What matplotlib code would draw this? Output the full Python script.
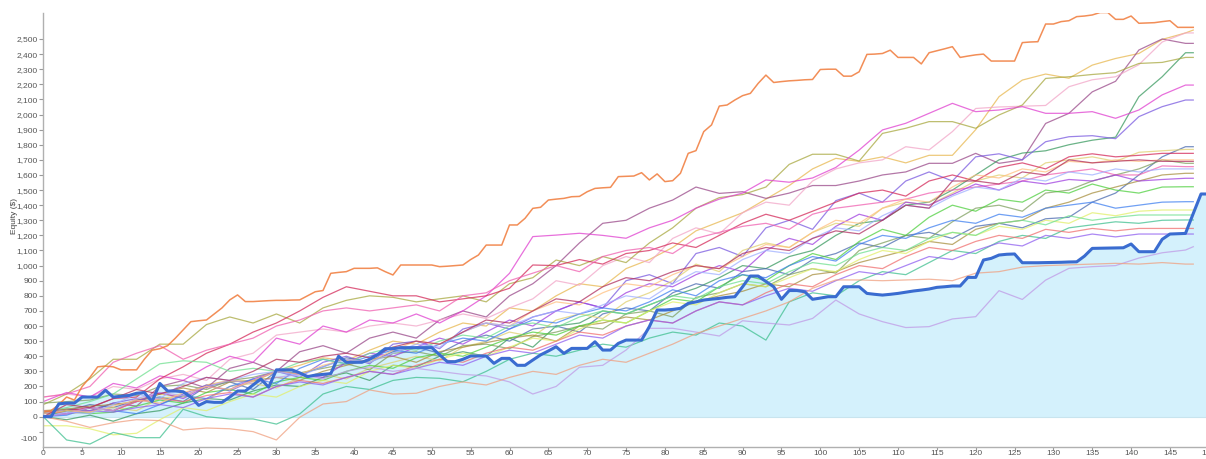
import matplotlib
matplotlib.use("Agg")
import matplotlib.pyplot as plt
from matplotlib.transforms import ScaledTranslation

# ---------------- data ----------------
# highlighted run (thick blue) -- equity after each trade
blue_y = [0, 0, 85, 90, 90, 130, 130, 130, 175, 130, 135, 140, 155, 160, 100, 220, 170, 170, 165, 130,
          75, 100, 95, 95, 130, 170, 170, 210, 250, 195, 310, 310, 310, 290, 265, 275, 280, 285, 400, 360,
          360, 360, 380, 410, 450, 450, 457, 457, 457, 457, 457, 410, 364, 364, 380, 402, 402, 402, 353, 386,
          386, 340, 340, 375, 409, 435, 463, 419, 452, 452, 452, 496, 441, 441, 485, 507, 507, 507, 596, 706,
          706, 710, 717, 750, 760, 772, 778, 783, 790, 794, 860, 931, 931, 895, 860, 777, 835, 835, 827, 777,
          785, 794, 794, 860, 860, 860, 816, 810, 805, 810, 816, 824, 832, 838, 845, 856, 860, 865, 865, 922,
          922, 1037, 1048, 1070, 1075, 1077, 1019, 1019, 1019, 1020, 1021, 1022, 1024, 1025, 1063, 1114, 1115, 1116, 1117, 1118,
          1143, 1092, 1092, 1092, 1174, 1209, 1211, 1213, 1345, 1474, 1474]
blue_x = list(range(len(blue_y)))

# best run (orange) -- equity after each trade
orange_y = [30, 40, 80, 130, 110, 200, 260, 330, 335, 330, 310, 310, 310, 380, 440, 450, 470, 520, 574, 629,
            635, 640, 680, 720, 773, 806, 762, 762, 765, 768, 770, 770, 772, 773, 800, 827, 835, 949, 955, 960,
            982, 982, 982, 985, 960, 938, 1004, 1004, 1004, 1004, 1004, 993, 996, 1000, 1004, 1040, 1070, 1136, 1136, 1136,
            1269, 1269, 1313, 1379, 1386, 1434, 1440, 1445, 1456, 1458, 1489, 1511, 1515, 1518, 1589, 1591, 1593, 1615, 1567, 1607,
            1556, 1562, 1611, 1743, 1761, 1887, 1931, 2056, 2063, 2096, 2125, 2140, 2206, 2261, 2212, 2218, 2223, 2226, 2230, 2232,
            2298, 2300, 2300, 2254, 2254, 2283, 2398, 2400, 2404, 2426, 2378, 2378, 2378, 2335, 2409, 2422, 2435, 2449, 2378, 2387,
            2395, 2400, 2354, 2354, 2354, 2354, 2476, 2480, 2482, 2599, 2599, 2615, 2621, 2648, 2652, 2659, 2675, 2675, 2630, 2630,
            2652, 2604, 2606, 2608, 2615, 2621, 2577, 2577, 2577]
orange_x = list(range(len(orange_y)))

# other simulated runs, read every 3 trades (last point = trade 148)
run_x = list(range(0, 148, 3)) + [148]

gold = [0, 20, 60, 40, 110, 150, 130, 210, 240, 230, 300, 340, 390, 370, 440, 500, 480, 560, 620, 600,
        720, 700, 800, 880, 860, 980, 1040, 1120, 1230, 1290, 1350, 1440, 1530, 1640, 1710, 1690, 1720, 1680, 1730, 1730,
        1900, 2118, 2228, 2268, 2240, 2327, 2371, 2404, 2497, 2540, 2559]
mauve = [30, 50, 40, 90, 70, 200, 240, 190, 320, 360, 300, 430, 470, 420, 520, 560, 520, 640, 700, 660,
         800, 880, 1000, 1150, 1280, 1300, 1380, 1434, 1520, 1478, 1489, 1445, 1480, 1530, 1530, 1560, 1600, 1620, 1677, 1677,
         1743, 1677, 1700, 1941, 2008, 2150, 2220, 2427, 2500, 2471, 2471]
lpink = [130, 150, 130, 200, 180, 250, 280, 240, 380, 420, 540, 560, 580, 560, 600, 620, 600, 640, 680, 650,
         720, 780, 900, 870, 1000, 1060, 1020, 1180, 1250, 1210, 1350, 1420, 1400, 1560, 1640, 1680, 1700, 1787, 1766, 1887,
         2040, 2050, 2055, 2060, 2184, 2230, 2250, 2330, 2480, 2540, 2540]
dgreen = [0, -20, 10, -30, 20, 40, 90, 120, 110, 170, 210, 200, 260, 290, 240, 340, 330, 400, 430, 400,
          520, 460, 600, 620, 700, 680, 740, 800, 850, 920, 1000, 980, 1060, 1100, 1200, 1280, 1300, 1400, 1420, 1500,
          1600, 1700, 1745, 1760, 1800, 1830, 1850, 2118, 2250, 2409, 2409]
olive = [80, 150, 250, 380, 380, 480, 480, 610, 660, 620, 680, 620, 720, 770, 800, 790, 760, 780, 800, 760,
         880, 920, 1037, 1000, 1060, 1020, 1150, 1250, 1380, 1450, 1470, 1520, 1670, 1737, 1737, 1692, 1875, 1909, 1953, 1953,
         1909, 1997, 2063, 2239, 2250, 2265, 2277, 2338, 2345, 2378, 2378]
magenta = [100, 160, 130, 220, 190, 270, 240, 330, 400, 360, 520, 480, 600, 560, 640, 620, 680, 620, 700, 800,
           949, 1192, 1202, 1214, 1200, 1181, 1250, 1300, 1380, 1440, 1480, 1567, 1552, 1580, 1650, 1765, 1898, 1942, 2008, 2074,
           2019, 2030, 2052, 2008, 2008, 2019, 1975, 2030, 2130, 2195, 2195]
violet = [20, 40, 30, 90, 120, 80, 150, 210, 170, 240, 300, 260, 360, 400, 350, 480, 500, 450, 580, 620,
          580, 660, 700, 760, 720, 900, 940, 880, 1080, 1120, 1060, 1250, 1300, 1240, 1430, 1480, 1420, 1560, 1620, 1560,
          1720, 1740, 1700, 1820, 1853, 1860, 1840, 1986, 2052, 2096, 2096]
steel = [20, 40, 80, 60, 110, 130, 100, 200, 230, 180, 300, 280, 330, 390, 360, 430, 460, 420, 500, 540,
         500, 580, 600, 560, 680, 720, 700, 820, 880, 850, 960, 980, 940, 1040, 1080, 1150, 1120, 1200, 1220, 1180,
         1260, 1280, 1250, 1310, 1320, 1420, 1480, 1600, 1720, 1787, 1787]
lgold = [0, 20, 30, 60, 40, 120, 140, 110, 200, 220, 190, 260, 280, 250, 320, 360, 400, 370, 460, 500,
         560, 530, 640, 680, 650, 760, 820, 900, 1010, 960, 1100, 1150, 1120, 1220, 1280, 1260, 1380, 1420, 1400, 1480,
         1560, 1600, 1580, 1680, 1700, 1720, 1690, 1750, 1760, 1769, 1769]
crimson = [0, 40, 60, 120, 130, 250, 330, 420, 480, 560, 620, 700, 790, 860, 830, 800, 800, 760, 780, 800,
           850, 1004, 1000, 1040, 1010, 1080, 1100, 1150, 1120, 1200, 1280, 1340, 1300, 1360, 1420, 1480, 1500, 1460, 1560, 1600,
           1560, 1650, 1680, 1640, 1720, 1740, 1720, 1730, 1743, 1743, 1743]
oteal = [90, 100, 110, 150, 140, 200, 210, 180, 240, 260, 300, 290, 320, 350, 310, 420, 430, 400, 470, 480,
         450, 530, 560, 600, 580, 680, 700, 660, 790, 820, 880, 860, 940, 980, 950, 1100, 1150, 1200, 1180, 1290,
         1380, 1400, 1360, 1480, 1500, 1560, 1600, 1640, 1700, 1677, 1677]
pink = [130, 150, 200, 360, 420, 470, 380, 440, 480, 520, 600, 640, 700, 720, 700, 720, 740, 700, 800, 820,
        900, 950, 1000, 960, 1060, 1100, 1120, 1080, 1180, 1220, 1260, 1280, 1240, 1340, 1380, 1400, 1420, 1440, 1480, 1500,
        1520, 1540, 1560, 1600, 1620, 1640, 1600, 1600, 1660, 1655, 1655]
olive2 = [40, 50, 70, 80, 100, 150, 190, 160, 230, 240, 260, 240, 300, 340, 380, 400, 360, 430, 460, 490,
          520, 540, 500, 600, 620, 660, 640, 700, 760, 800, 830, 880, 860, 940, 960, 1020, 1060, 1100, 1160, 1140,
          1240, 1280, 1300, 1380, 1420, 1480, 1520, 1560, 1600, 1611, 1611]
purple = [0, 20, 60, 40, 100, 160, 120, 200, 180, 250, 300, 280, 260, 360, 420, 400, 460, 520, 480, 560,
          640, 600, 700, 760, 720, 820, 880, 860, 940, 1000, 960, 1100, 1180, 1140, 1260, 1340, 1300, 1420, 1400, 1470,
          1540, 1500, 1560, 1540, 1570, 1560, 1600, 1560, 1570, 1578, 1578]
green = [0, 40, 20, 30, 70, 110, 90, 160, 180, 150, 230, 260, 240, 300, 340, 320, 390, 420, 400, 460,
         520, 560, 540, 600, 640, 620, 700, 780, 760, 860, 940, 900, 1000, 1080, 1040, 1160, 1240, 1200, 1320, 1400,
         1360, 1440, 1420, 1500, 1480, 1540, 1500, 1480, 1520, 1522, 1522]
blue2 = [0, 10, 60, 40, 20, 80, 140, 120, 200, 250, 220, 320, 380, 350, 400, 440, 420, 480, 520, 500,
         580, 640, 620, 680, 720, 700, 760, 840, 800, 900, 940, 920, 1000, 1060, 1030, 1140, 1200, 1180, 1250, 1300,
         1280, 1340, 1320, 1380, 1400, 1420, 1380, 1400, 1420, 1423, 1423]
lyellow = [-60, -60, -80, -120, -110, -20, 60, 40, 100, 150, 130, 200, 240, 220, 300, 340, 320, 380, 420, 400,
           460, 520, 500, 580, 640, 620, 700, 760, 740, 820, 880, 860, 920, 980, 960, 1040, 1100, 1080, 1160, 1220,
           1200, 1260, 1240, 1300, 1280, 1350, 1330, 1360, 1368, 1368, 1368]
lgreen = [30, 60, 100, 150, 250, 350, 370, 360, 300, 320, 300, 360, 380, 350, 420, 460, 440, 500, 540, 520,
          600, 620, 590, 660, 700, 680, 740, 800, 780, 860, 900, 880, 960, 1020, 1000, 1080, 1120, 1100, 1180, 1220,
          1200, 1280, 1300, 1270, 1330, 1300, 1320, 1335, 1335, 1335, 1335]
teal = [0, -154, -181, -104, -139, -139, 49, 0, -15, -15, -49, 18, 150, 200, 180, 240, 260, 254, 231, 300,
        380, 420, 400, 440, 480, 460, 520, 560, 540, 620, 600, 507, 760, 820, 800, 900, 960, 940, 1020, 1100,
        1080, 1160, 1200, 1180, 1250, 1270, 1290, 1280, 1300, 1302, 1302]
salmonred = [40, 20, 60, 40, 100, 120, 100, 140, 160, 130, 200, 240, 220, 260, 300, 280, 340, 380, 360, 420,
             460, 440, 500, 560, 540, 600, 640, 620, 700, 760, 740, 820, 880, 860, 940, 1000, 980, 1060, 1120, 1100,
             1160, 1200, 1180, 1240, 1220, 1246, 1230, 1246, 1246, 1246, 1246]
purple2 = [0, 20, 40, 30, 60, 80, 60, 120, 150, 130, 200, 230, 210, 260, 300, 280, 320, 360, 340, 400,
           440, 420, 480, 540, 520, 600, 640, 620, 700, 760, 740, 800, 850, 830, 900, 960, 940, 1000, 1060, 1040,
           1100, 1150, 1130, 1200, 1180, 1209, 1190, 1209, 1209, 1209, 1209]
lavender = [0, 20, 60, 40, 120, 160, 140, 200, 240, 220, 260, 280, 250, 300, 330, 300, 320, 300, 280, 270,
            230, 150, 200, 327, 340, 441, 585, 585, 560, 534, 635, 620, 607, 650, 772, 680, 629, 590, 596, 647,
            662, 834, 776, 904, 982, 993, 1000, 1050, 1085, 1103, 1125]
salmon = [0, -30, -71, -40, -20, -26, -88, -75, -80, -99, -154, -4, 84, 100, 177, 150, 155, 200, 230, 210,
          260, 300, 280, 340, 380, 360, 420, 480, 550, 600, 650, 700, 760, 850, 905, 905, 900, 905, 910, 900,
          950, 960, 990, 1000, 1005, 1010, 1015, 1010, 1020, 1010, 1010]
peach = [20, 40, 30, 70, 110, 90, 160, 200, 180, 240, 300, 280, 340, 380, 360, 440, 500, 480, 560, 620,
         600, 700, 760, 740, 820, 880, 860, 940, 1000, 980, 1060, 1140, 1120, 1220, 1300, 1280, 1380, 1440, 1420, 1520,
         1600, 1580, 1640, 1620, 1690, 1680, 1700, 1690, 1700, 1700, 1700]
lblue = [0, 30, 20, 80, 150, 120, 220, 260, 240, 280, 300, 270, 330, 380, 360, 420, 480, 460, 560, 620,
         600, 660, 700, 680, 740, 800, 780, 880, 960, 940, 1040, 1100, 1080, 1180, 1250, 1230, 1330, 1400, 1380, 1460,
         1520, 1500, 1580, 1560, 1620, 1600, 1640, 1620, 1640, 1640, 1640]
dred = [0, 80, 60, 120, 180, 150, 200, 260, 240, 300, 380, 360, 400, 420, 390, 460, 500, 480, 560, 640,
        620, 700, 780, 760, 860, 920, 900, 960, 1000, 980, 1080, 1120, 1100, 1180, 1230, 1210, 1300, 1400, 1380, 1560,
        1560, 1540, 1620, 1600, 1700, 1680, 1690, 1700, 1690, 1690, 1690]

runs = [
    (gold, "#e8b850"), (mauve, "#9a4a8a"), (lpink, "#f2a6c8"), (dgreen, "#3a9a60"),
    (olive, "#a8a840"), (magenta, "#e040d0"), (violet, "#7a5ae0"), (steel, "#4a6ab0"),
    (lgold, "#e0d070"), (crimson, "#d42a5a"), (oteal, "#80a060"), (pink, "#f060b0"),
    (olive2, "#a89040"), (purple, "#a040e0"), (green, "#50d040"), (blue2, "#4080f0"),
    (lyellow, "#e2ef6a"), (lgreen, "#70e090"), (teal, "#40c090"), (salmonred, "#f07070"),
    (purple2, "#9060f0"), (lavender, "#c09ae6"), (salmon, "#f0a080"), (peach, "#ffc080"),
    (lblue, "#a0b0ff"), (dred, "#b03060"),
]

y_ticks = list(range(-100, 2501, 100))
x_ticks = list(range(0, 151, 5))

# ---------------- plot ----------------
W, H = 1206, 459
fig = plt.figure(figsize=(W / 100, H / 100), dpi=100)
x0px, x150px = 43.3, 1208.8
ytop_px, ybot_px = 12.7, 446.9
ax = fig.add_axes([x0px / W, (H - ybot_px) / H, (x150px - x0px) / W, (ybot_px - ytop_px) / H])
ax.set_xlim(0, 150)
ax.set_ylim(-200, 2674)

ax.fill_between(blue_x, 0, blue_y, color="#d4f1fc", lw=0, zorder=1)
ax.axhline(0, color="#c8e4ee", lw=0.8, zorder=1.5)

for ys, c in runs:
    ax.plot(run_x, ys, color=c, lw=0.9, alpha=0.75, zorder=2)
ax.plot(orange_x, orange_y, color="#f07a3a", lw=1.1, alpha=0.85, zorder=2)
ax.plot(blue_x, blue_y, color="#3a6cd0", lw=2.2, zorder=3)

for s in ["top", "right"]:
    ax.spines[s].set_visible(False)
for s in ["left", "bottom"]:
    ax.spines[s].set_color("#b0b0b0")
    ax.spines[s].set_linewidth(1.0)

tick_font = "Liberation Sans"
ax.set_yticks(y_ticks)
ax.set_yticklabels([f"{v:,}" for v in y_ticks], fontfamily=tick_font)
ax.set_xticks(x_ticks)
ax.set_xticklabels([str(v) for v in x_ticks], fontfamily=tick_font)
ax.tick_params(axis="y", colors="#9a9a9a", labelcolor="#555555", labelsize=6,
               length=3, width=0.8, pad=1)
ax.tick_params(axis="x", colors="#9a9a9a", labelcolor="#555555", labelsize=6,
               length=2, width=0.8, pad=0.5)

# the lowest label sits a little lower in the reference
for lbl in ax.get_yticklabels():
    if lbl.get_text() == "-100":
        lbl.set_transform(lbl.get_transform() + ScaledTranslation(0, -7 / 100, fig.dpi_scale_trans))

fig.text(15 / W, 1 - 216 / H, "Equity ($)", rotation=90, ha="center", va="center",
         fontsize=6, color="#444444", fontfamily=tick_font)

fig.savefig("out.png", dpi=100)
